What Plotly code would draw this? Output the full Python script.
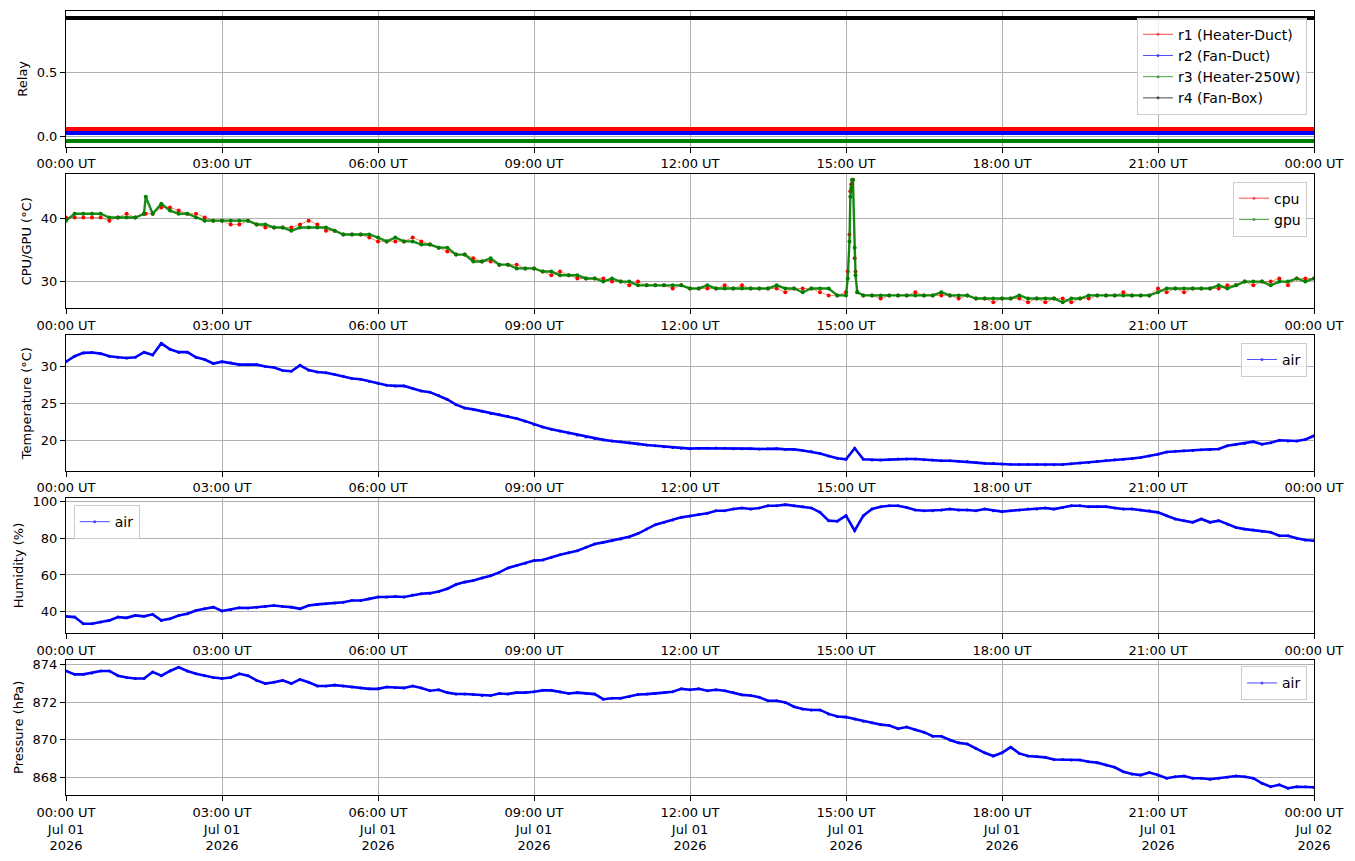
import pandas as pd
import plotly.graph_objects as go

# ---------------- data (10-minute samples) ----------------
minutes = list(range(0, 1441, 10))

relay_names = ["r1 (Heater-Duct)", "r2 (Fan-Duct)", "r3 (Heater-250W)", "r4 (Fan-Box)"]
relay_levels = [0.0625, 0.03125, -0.03125, 0.93]
relay_colors = ["#ff0000", "#0000ff", "#008000", "#000000"]

cpu = [
    40.2, 40.2, 40.2, 40.2, 40.2, 39.7,
    40.2, 40.8, 40.2, 40.8, 40.8, 41.8,
    41.8, 41.3, 40.8, 40.8, 40.2, 39.7,
    39.7, 39.1, 39.1, 39.7, 39.1, 38.6,
    38.6, 38.6, 38.6, 39.1, 39.7, 39.1,
    38.1, 38.1, 37.5, 37.5, 37.5, 37.0,
    36.4, 36.4, 36.4, 36.4, 37.0, 36.4,
    35.9, 35.4, 34.8, 34.3, 34.3, 33.7,
    33.2, 33.2, 32.7, 32.7, 32.7, 32.1,
    32.1, 31.6, 31.0, 31.6, 31.0, 30.5,
    30.5, 30.5, 30.5, 30.0, 30.0, 29.4,
    30.0, 29.4, 29.4, 29.4, 28.9, 29.4,
    28.9, 28.9, 28.9, 28.9, 29.4, 28.9,
    29.4, 28.9, 28.9, 28.9, 28.9, 28.3,
    28.9, 28.9, 28.9, 28.3, 27.8, 27.8,
    28.3, 33.7, 27.8, 27.8, 27.3, 27.8,
    27.8, 27.8, 28.3, 27.8, 27.8, 27.8,
    27.8, 27.3, 27.8, 27.3, 27.3, 26.7,
    27.3, 27.3, 27.3, 26.7, 27.3, 26.7,
    27.3, 27.3, 26.7, 27.3, 27.3, 27.8,
    27.8, 27.8, 28.3, 27.8, 27.8, 27.8,
    28.9, 28.3, 28.9, 28.3, 28.9, 28.9,
    28.9, 28.9, 29.4, 29.4, 30.0, 29.4,
    30.0, 30.0, 30.5, 29.4, 30.5, 30.5,
    30.5,
]
gpu = [
    39.7, 40.8, 40.8, 40.8, 40.8, 40.2,
    40.2, 40.2, 40.2, 40.8, 40.8, 42.4,
    41.3, 40.8, 40.8, 40.2, 39.7, 39.7,
    39.7, 39.7, 39.7, 39.7, 39.1, 39.1,
    38.6, 38.6, 38.1, 38.6, 38.6, 38.6,
    38.6, 38.1, 37.5, 37.5, 37.5, 37.5,
    37.0, 36.4, 37.0, 36.4, 36.4, 35.9,
    35.9, 35.4, 35.4, 34.3, 34.3, 33.2,
    33.2, 33.7, 32.7, 32.7, 32.1, 32.1,
    32.1, 31.6, 31.6, 31.0, 31.0, 31.0,
    30.5, 30.5, 30.0, 30.5, 30.0, 30.0,
    29.4, 29.4, 29.4, 29.4, 29.4, 29.4,
    28.9, 28.9, 29.4, 28.9, 28.9, 28.9,
    28.9, 28.9, 28.9, 28.9, 29.4, 28.9,
    28.9, 28.3, 28.9, 28.9, 28.9, 27.8,
    27.8, 35.4, 27.8, 27.8, 27.8, 27.8,
    27.8, 27.8, 27.8, 27.8, 27.8, 28.3,
    27.8, 27.8, 27.8, 27.3, 27.3, 27.3,
    27.3, 27.3, 27.8, 27.3, 27.3, 27.3,
    27.3, 26.7, 27.3, 27.3, 27.8, 27.8,
    27.8, 27.8, 27.8, 27.8, 27.8, 27.8,
    28.3, 28.9, 28.9, 28.9, 28.9, 28.9,
    28.9, 29.4, 28.9, 29.4, 30.0, 30.0,
    30.0, 29.4, 30.0, 30.0, 30.5, 30.0,
    30.5,
]
# extra short-lived samples (spikes at 01:32 and ~15:05)
spike_minutes = [92, 902, 904, 905, 906, 907, 908, 911, 913]
cpu_spike = [40.8, 31.6, 37.5, 44.4, 45.5, 45.5, 46.2, 31.6, 28.3]
gpu_spike = [43.5, 30.5, 36.4, 43.5, 44.9, 46.2, 46.2, 31.0, 28.3]

air_temp = [
    30.7, 31.45, 31.9, 31.95, 31.8, 31.45,
    31.3, 31.2, 31.3, 32.0, 31.6, 33.2,
    32.4, 32.0, 32.0, 31.3, 31.0, 30.45,
    30.7, 30.55, 30.3, 30.3, 30.3, 30.05,
    29.9, 29.5, 29.4, 30.2, 29.55, 29.3,
    29.2, 28.95, 28.7, 28.4, 28.3, 28.05,
    27.75, 27.5, 27.4, 27.4, 27.05, 26.7,
    26.55, 26.1, 25.55, 24.85, 24.4, 24.2,
    23.95, 23.65, 23.5, 23.25, 22.95, 22.6,
    22.15, 21.8, 21.5, 21.25, 21.0, 20.7,
    20.45, 20.25, 20.05, 19.9, 19.8, 19.65,
    19.5, 19.35, 19.25, 19.1, 19.0, 18.9,
    18.85, 18.9, 18.9, 18.95, 18.9, 18.85,
    18.85, 18.85, 18.8, 18.85, 18.85, 18.75,
    18.75, 18.6, 18.45, 18.2, 17.85, 17.55,
    17.4, 18.9, 17.4, 17.3, 17.3, 17.35,
    17.45, 17.45, 17.45, 17.35, 17.3, 17.2,
    17.2, 17.15, 17.1, 16.95, 16.85, 16.85,
    16.75, 16.7, 16.7, 16.7, 16.7, 16.65,
    16.65, 16.7, 16.8, 16.9, 16.95, 17.1,
    17.25, 17.35, 17.4, 17.5, 17.65, 17.85,
    18.1, 18.4, 18.5, 18.55, 18.6, 18.7,
    18.75, 18.8, 19.25, 19.4, 19.55, 19.8,
    19.45, 19.65, 20.0, 19.9, 19.9, 20.1,
    20.6,
]
air_hum = [
    37.5, 37.1, 33.5, 33.5, 34.4, 35.3,
    37.1, 36.7, 38.0, 37.5, 38.6, 35.3,
    36.2, 38.0, 38.9, 40.7, 41.6, 42.5,
    40.4, 41.1, 42.2, 42.0, 42.5, 42.9,
    43.4, 42.9, 42.5, 41.6, 43.4, 44.0,
    44.3, 44.7, 45.2, 46.1, 46.1, 47.0,
    48.0, 48.0, 48.3, 48.0, 49.1, 49.8,
    50.1, 51.0, 52.5, 54.8, 56.1, 57.0,
    58.4, 59.6, 61.4, 63.8, 65.1, 66.3,
    67.8, 68.1, 69.6, 71.0, 72.1, 73.2,
    75.0, 76.8, 77.7, 78.6, 79.5, 80.8,
    82.5, 84.9, 87.3, 88.6, 89.9, 91.3,
    92.0, 92.8, 93.5, 94.9, 94.9, 95.8,
    96.4, 95.8, 96.4, 97.6, 97.6, 98.2,
    97.6, 97.1, 96.4, 94.0, 89.5, 89.2,
    92.2, 84.1, 92.2, 95.8, 97.1, 97.6,
    97.6, 96.7, 95.3, 94.9, 94.9, 95.3,
    95.8, 95.3, 95.3, 94.9, 95.8, 94.9,
    94.4, 94.9, 95.3, 95.8, 95.8, 96.4,
    95.8, 96.7, 97.6, 97.6, 97.1, 97.1,
    97.1, 96.4, 95.8, 95.8, 95.3, 94.9,
    94.0, 92.2, 90.4, 89.5, 88.6, 90.4,
    88.6, 89.5, 87.7, 85.8, 84.9, 84.4,
    83.7, 83.2, 81.3, 81.3, 79.9, 79.0,
    78.6,
]
air_press = [
    873.65, 873.47, 873.47, 873.54, 873.65, 873.65,
    873.4, 873.3, 873.25, 873.25, 873.6, 873.4,
    873.65, 873.85, 873.65, 873.5, 873.4, 873.3,
    873.25, 873.3, 873.5, 873.4, 873.15, 872.98,
    873.05, 873.15, 872.98, 873.2, 873.05, 872.85,
    872.85, 872.9, 872.85, 872.8, 872.75, 872.7,
    872.7, 872.8, 872.77, 872.75, 872.85, 872.75,
    872.6, 872.65, 872.5, 872.43, 872.43, 872.4,
    872.35, 872.35, 872.45, 872.43, 872.5, 872.5,
    872.55, 872.62, 872.62, 872.55, 872.45, 872.5,
    872.45, 872.42, 872.15, 872.2, 872.2, 872.3,
    872.4, 872.42, 872.45, 872.5, 872.55, 872.7,
    872.65, 872.7, 872.6, 872.65, 872.6, 872.5,
    872.38, 872.35, 872.25, 872.07, 872.07, 871.98,
    871.75, 871.63, 871.58, 871.58, 871.37, 871.23,
    871.2, 871.1, 870.98, 870.9, 870.8, 870.75,
    870.58, 870.67, 870.53, 870.4, 870.18, 870.18,
    869.98, 869.83, 869.77, 869.53, 869.3, 869.13,
    869.3, 869.6, 869.27, 869.13, 869.1, 869.06,
    868.95, 868.95, 868.92, 868.92, 868.83, 868.78,
    868.65, 868.53, 868.3, 868.18, 868.12, 868.25,
    868.12, 867.95, 868.03, 868.07, 867.95, 867.95,
    867.9, 867.95, 868.0, 868.07, 868.03, 867.95,
    867.68, 867.5, 867.6, 867.42, 867.5, 867.5,
    867.47,
]

tick_hours = [0, 3, 6, 9, 12, 15, 18, 21, 24]
tick_labels = ["00:00 UT", "03:00 UT", "06:00 UT", "09:00 UT", "12:00 UT",
               "15:00 UT", "18:00 UT", "21:00 UT", "00:00 UT"]
tick_dates = ["Jul 01"] * 8 + ["Jul 02"]
tick_year = "2026"

# ---------------- helpers ----------------
base = pd.Timestamp("2026-07-01 00:00:00")


def to_time(mins):
    return [base + pd.Timedelta(minutes=m) for m in mins]


t = to_time(minutes)

all_cg = minutes + spike_minutes
order = sorted(range(len(all_cg)), key=lambda i: all_cg[i])
cg_t = to_time([all_cg[i] for i in order])
cpu_all = [(cpu + cpu_spike)[i] for i in order]
gpu_all = [(gpu + gpu_spike)[i] for i in order]

FONT = "DejaVu Sans"
fig = go.Figure()


def proxy(name, color, xa, ya, legend):
    fig.add_trace(go.Scatter(
        x=[None], y=[None], mode="lines+markers", name=name,
        line=dict(color=color, width=1), opacity=0.7,
        marker=dict(color=color, size=3), xaxis=xa, yaxis=ya, legend=legend,
        showlegend=True))


# Relay panel
for name, lvl, col in zip(relay_names, relay_levels, relay_colors):
    fig.add_trace(go.Scatter(x=t, y=[lvl] * len(t), mode="lines",
                             line=dict(color=col, width=4), showlegend=False,
                             xaxis="x", yaxis="y", hoverinfo="skip"))
for name, col in zip(relay_names, relay_colors):
    proxy(name, col, "x", "y", "legend")

# CPU / GPU panel
fig.add_trace(go.Scatter(x=cg_t, y=cpu_all, mode="lines+markers",
                         line=dict(color="rgba(200,60,0,0.55)", width=1),
                         marker=dict(color="#ff0000", size=4),
                         showlegend=False, xaxis="x2", yaxis="y2"))
fig.add_trace(go.Scatter(x=cg_t, y=gpu_all, mode="lines+markers",
                         line=dict(color="rgba(0,128,0,0.9)", width=2.4),
                         marker=dict(color="#008000", size=4),
                         showlegend=False, xaxis="x2", yaxis="y2"))
proxy("cpu", "#ff0000", "x2", "y2", "legend2")
proxy("gpu", "#008000", "x2", "y2", "legend2")

# Temperature, humidity, pressure
for yv, ax, leg in [(air_temp, "3", "legend3"), (air_hum, "4", "legend4"),
                    (air_press, "5", "legend5")]:
    fig.add_trace(go.Scatter(x=t, y=yv, mode="lines+markers",
                             line=dict(color="#0000ff", width=2.6),
                             marker=dict(color="#0000ff", size=3),
                             showlegend=False, xaxis="x" + ax, yaxis="y" + ax))
    proxy("air", "#0000ff", "x" + ax, "y" + ax, leg)

# ---------------- layout ----------------
domains = [[0.827, 1.0], [0.6209, 0.7917], [0.4135, 0.5861],
           [0.2065, 0.3788], [0.0, 0.1726]]
yranges = [[-0.076, 0.984], [25.76, 47.08], [15.83, 34.27],
           [28.4, 101.8], [867.06, 874.25]]
ytitles = ["Relay", "CPU/GPU (°C)", "Temperature (°C)", "Humidity (%)",
           "Pressure (hPa)"]
yticks = [[0, 0.5], [30, 40], [20, 25, 30], [40, 60, 80, 100],
          [868, 870, 872, 874]]
ytext = [["0.0", "0.5"], None, None, None, None]

tick_times = [base + pd.Timedelta(hours=h) for h in tick_hours]
bottom_text = [f"{a}<br>{d}<br>{tick_year}" for a, d in zip(tick_labels, tick_dates)]

layout = dict(
    width=1355, height=861,
    margin=dict(l=66, r=41, t=7, b=66),
    paper_bgcolor="white", plot_bgcolor="white",
    font=dict(family=FONT, size=13, color="black"),
    hovermode=False,
)
axis_common = dict(showline=True, linecolor="black", linewidth=1, mirror=True,
                   ticks="outside", ticklen=5, tickwidth=1, tickcolor="black",
                   showgrid=True, gridcolor="#b0b0b0", gridwidth=0.8,
                   zeroline=False, tickfont=dict(family=FONT, size=13, color="black"))
for i in range(5):
    n = "" if i == 0 else str(i + 1)
    layout["xaxis" + n] = dict(
        axis_common, type="date", domain=[0, 1], anchor="y" + n,
        range=[tick_times[0], tick_times[-1]],
        tickmode="array", tickvals=tick_times,
        ticktext=bottom_text if i == 4 else tick_labels,
    )
    yax = dict(axis_common, domain=domains[i], anchor="x" + n, range=yranges[i],
               tickmode="array", tickvals=yticks[i],
               title=dict(text=ytitles[i], font=dict(family=FONT, size=13),
                          standoff=6))
    if ytext[i]:
        yax["ticktext"] = ytext[i]
    layout["yaxis" + n] = yax

leg_common = dict(bgcolor="rgba(255,255,255,0.8)", bordercolor="#cccccc",
                  borderwidth=1, font=dict(family=FONT, size=14, color="black"),
                  itemwidth=30, tracegroupgap=0)
layout["legend"] = dict(leg_common, x=0.9944, y=0.9915, xanchor="right", yanchor="top",
                        xref="paper", yref="paper")
layout["legend2"] = dict(leg_common, x=0.9944, y=0.7824, xanchor="right", yanchor="top")
layout["legend3"] = dict(leg_common, x=0.9944, y=0.5767, xanchor="right", yanchor="top")
layout["legend4"] = dict(leg_common, x=0.0062, y=0.3698, xanchor="left", yanchor="top")
layout["legend5"] = dict(leg_common, x=0.9944, y=0.1641, xanchor="right", yanchor="top")

fig.update_layout(**layout)
fig.write_html("out.html", config={"displayModeBar": False},
               post_script="document.body.style.margin='0';document.body.style.padding='0';")
